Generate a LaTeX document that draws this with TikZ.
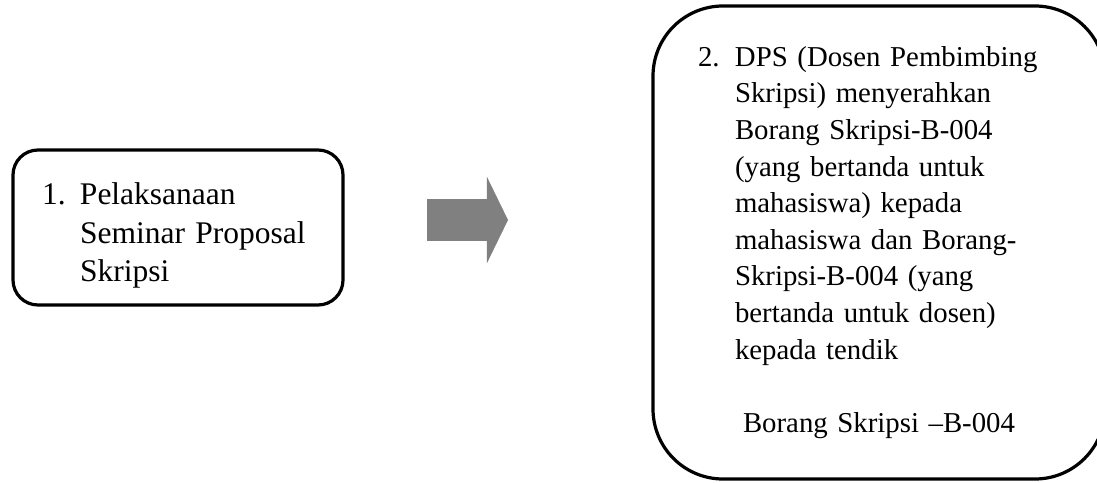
\documentclass[tikz,border=0pt]{standalone}
\usepackage{fontspec}
\setmainfont{Liberation Serif}
\usetikzlibrary{positioning, shapes.arrows}

\newcommand{\numitem}[2]{\hangindent=#1\hangafter=1\noindent\makebox[#1][l]{#2}}

\begin{document}
\begin{tikzpicture}[
            box/.style={rectangle, draw=black, line width=1.6pt, outer sep=0pt},
            bigarrow/.style={single arrow, fill=black!50, draw=none, inner xsep=0pt, inner ysep=10.25pt,
                        outer sep=0pt, minimum height=40.5pt,
                        single arrow head extend=11.25pt, single arrow tip angle=128}
        ]
            \useasboundingbox (0,0) rectangle (548.5pt,-241pt);

            % Step 1
            \node[box, rounded corners=12.5pt, minimum width=165pt, minimum height=77.5pt,
                  text width=136pt, inner xsep=14.5pt,
                  font={\fontsize{15.75}{19.2}\selectfont}] (seminar) at (89pt,-113.75pt)
                {\numitem{19pt}{1.}\rule{0pt}{19pt}Pelaksanaan\newline Seminar Proposal\newline Skripsi\par};

            % Arrow
            \node[bigarrow, right=42pt of seminar, yshift=3.75pt] (panah) {};

            % Step 2
            \node[box, rounded corners=35pt, minimum width=226pt, minimum height=236.5pt,
                  text width=181pt, inner xsep=22.5pt,
                  font={\fontsize{14.4}{18.3}\selectfont},
                  right=72.5pt of panah, yshift=-11.25pt] (dps)
                {\numitem{18.5pt}{2.}DPS (Dosen Pembimbing\newline Skripsi) menyerahkan\newline
                 Borang Skripsi-B-004\newline (yang bertanda untuk\newline mahasiswa) kepada\newline
                 mahasiswa dan Borang-\newline Skripsi-B-004 (yang\newline bertanda untuk dosen)\newline
                 kepada tendik\par\vspace{\baselineskip}
                 {\centering\noindent Borang Skripsi --B-004\par}};
        \end{tikzpicture}
\end{document}
